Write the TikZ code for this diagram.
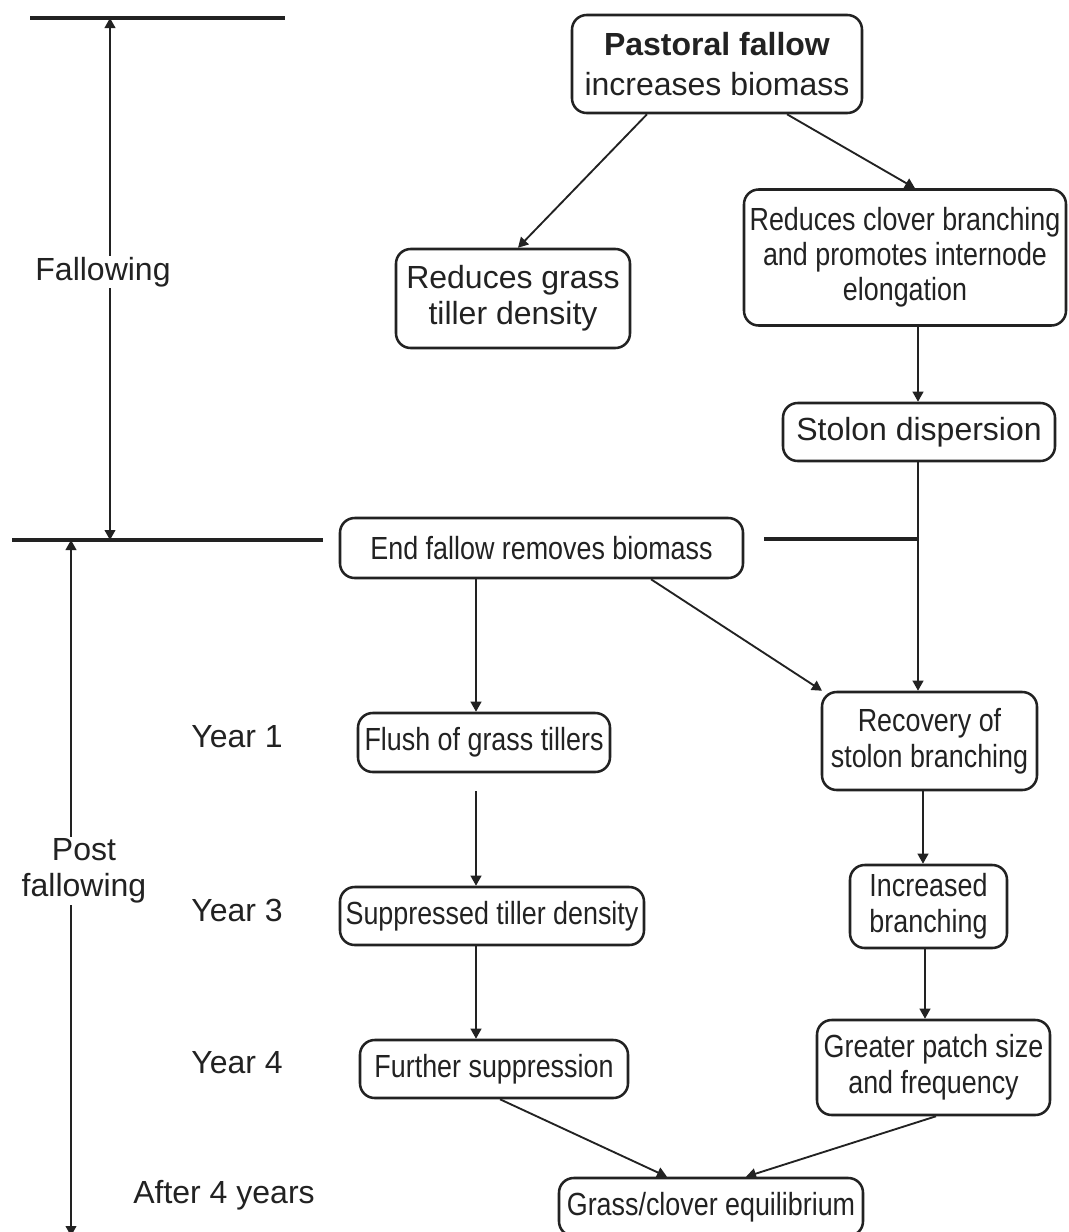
\documentclass[tikz,border=0pt]{standalone}
\usepackage{fontspec}
\setmainfont{Liberation Sans}
\newfontfamily\narrowfont[FakeStretch=0.84]{Liberation Sans}
\usetikzlibrary{arrows.meta,calc}
\definecolor{ink}{HTML}{222222}
\begin{document}
\begin{tikzpicture}[x=0.75pt,y=-0.75pt,
  box/.style={draw=ink, line width=1.9pt, rounded corners=11pt, inner sep=0pt, align=center, text=ink,
    font=\fontsize{24}{27}\selectfont},
  nbox/.style={box, font=\narrowfont\fontsize{24}{27}\selectfont},
  sz/.style 2 args={minimum width={#1*0.75pt}, minimum height={#2*0.75pt}},
  arr/.style={draw=ink, line width=1.4pt, -{Triangle[length=7.5pt,width=8pt]}},
  darr/.style={draw=ink, line width=1.4pt, {Triangle[length=7.5pt,width=8pt]}-{Triangle[length=7.5pt,width=8pt]}},
  sepline/.style={draw=ink, line width=2.3pt},
  lbl/.style={text=ink, font=\fontsize{24}{27}\selectfont, inner sep=1pt, align=center}]
\useasboundingbox (0,0) rectangle (1068,1232);

% phase separators and spans
\coordinate (t1) at (30,18);  \coordinate (t2) at (285,18);
\coordinate (m1) at (12,540); \coordinate (m2) at (323,540);
\coordinate (fa) at (110,18); \coordinate (fb) at (110,540);
\coordinate (pa) at (71,540); \coordinate (pb) at (71,1236);
\draw[sepline] (t1) -- (t2);
\draw[sepline] (m1) -- (m2);
\draw[darr] (fa) -- (fb);
\draw[darr] (pa) -- (pb);

% side labels
\node[lbl, fill=white] (fal) at (103,272) {Fallowing};
\node[lbl, fill=white] (post) at (84,871) {Post\\fallowing};
\node[lbl] (y1) at (237,737) {Year 1};
\node[lbl] (y3) at (237,910) {Year 3};
\node[lbl] (y4) at (237,1063) {Year 4};
\node[lbl] (after) at (224,1195) {After 4 years};

% boxes
\node[box, sz={290}{98}, font=\fontsize{24}{30.5}\selectfont] (past) at (717,64) {\textbf{Pastoral fallow}\\increases biomass};
\node[box, sz={234}{99}] (grass) at (513,298.5) {Reduces grass\\tiller density};
\node[nbox, sz={322}{136}, font=\narrowfont\fontsize{24}{26.3}\selectfont] (clover) at (905,257.5) {Reduces clover branching\\and promotes internode\\elongation};
\node[box, sz={272}{58}] (stolon) at (919,432) {Stolon dispersion};
\node[nbox, sz={403}{60}] (endf) at (541.5,548) {End fallow removes biomass};
\node[nbox, sz={252}{59}] (flush) at (484,742.5) {Flush of grass tillers};
\node[nbox, sz={215}{98}] (recov) at (929.5,741) {Recovery of\\stolon branching};
\node[nbox, sz={304}{58}] (supp) at (492,916) {Suppressed tiller density};
\node[nbox, sz={157}{83}] (incr) at (928.5,906.5) {Increased\\branching};
\node[nbox, sz={268}{58}] (furth) at (494,1069) {Further suppression};
\node[nbox, sz={233}{95}] (great) at (933.5,1067.5) {Greater patch size\\and frequency};
\node[nbox, sz={304}{58}] (equil) at (711,1207) {Grass/clover equilibrium};

% x helpers for connector ends
\coordinate (a1) at (647,0);  \coordinate (a2) at (518,0);
\coordinate (a3) at (787,0);  \coordinate (a4) at (915,0);
\coordinate (vr) at (918,0);  \coordinate (vl) at (476,0);
\coordinate (a5) at (651,0);  \coordinate (a6) at (822,0);
\coordinate (v2) at (923,0);  \coordinate (v3) at (925,0);
\coordinate (a7) at (500,0);  \coordinate (a8) at (667,0);
\coordinate (a9) at (936,0);  \coordinate (a10) at (746,0);
\coordinate (jn) at (918,539);

% connectors
\draw[arr] (past.south -| a1) -- (grass.north -| a2);
\draw[arr] (past.south -| a3) -- (clover.north -| a4);
\draw[arr] (clover.south -| vr) -- (stolon.north -| vr);
\draw[arr] (stolon.south -| vr) -- (recov.north -| vr);
\draw[sepline] ($(endf.east |- jn)+(20,0)$) -- (jn);
\draw[arr] (endf.south -| vl) -- (flush.north -| vl);
\draw[arr] (endf.south -| a5) -- (recov.north -| a6);
\draw[arr, shorten <=13.5pt] (flush.south -| vl) -- (supp.north -| vl);
\draw[arr] (supp.south -| vl) -- (furth.north -| vl);
\draw[arr] (recov.south -| v2) -- (incr.north -| v2);
\draw[arr] (incr.south -| v3) -- (great.north -| v3);
\draw[arr] (furth.south -| a7) -- (equil.north -| a8);
\draw[arr] (great.south -| a9) -- (equil.north -| a10);
\end{tikzpicture}
\end{document}
